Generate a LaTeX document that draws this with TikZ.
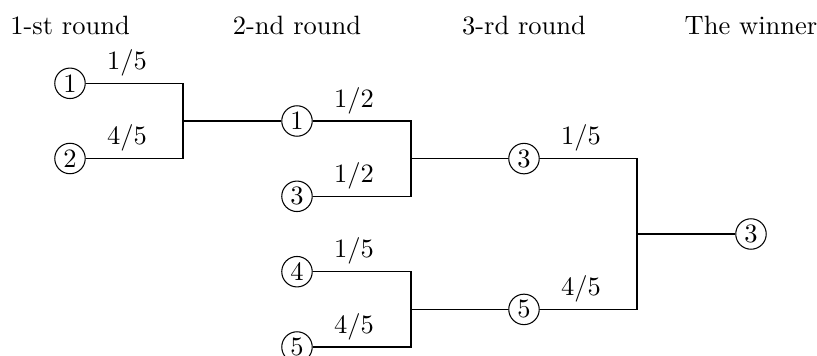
\documentclass[tikz,border=0pt]{standalone}
\begin{document}
\begin{tikzpicture}[x=0.37736pt,y=-0.37736pt,
  player/.style={draw,circle,inner sep=0pt,minimum size=11.5pt},
  head/.style={anchor=base,inner sep=0pt},
  prob/.style={anchor=base,inner sep=0pt},
  wire/.style={draw,line width=0.45pt}]
\useasboundingbox (0,0) rectangle (817,356);
% headings
\node[head] (h1) at (70,34) {1-st round};
\node[head] (h2) at (297,34) {2-nd round};
\node[head] (h3) at (524,34) {3-rd round};
\node[head] (h4) at (751,34) {The winner};
% players
\node[player] (a1) at (70,83.3) {1};
\node[player] (a2) at (70,158.5) {2};
\node[player] (b1) at (297,121) {1};
\node[player] (b3) at (297,196.3) {3};
\node[player] (b4) at (297,271.7) {4};
\node[player] (b5) at (297,347) {5};
\node[player] (c3) at (524,158.6) {3};
\node[player] (c5) at (524,309.4) {5};
\node[player] (w) at (751,234) {3};
% joins
\coordinate (j1) at (183,121);
\coordinate (j2) at (411,158.6);
\coordinate (j3) at (411,309.4);
\coordinate (j4) at (637,234);
\draw[wire] (a1) -- (a1 -| j1) -- (a2 -| j1) -- (a2);
\draw[wire] (j1) -- (b1);
\draw[wire] (b1) -- (b1 -| j2) -- (b3 -| j2) -- (b3);
\draw[wire] (j2) -- (c3);
\draw[wire] (b4) -- (b4 -| j3) -- (b5 -| j3) -- (b5);
\draw[wire] (j3) -- (c5);
\draw[wire] (c3) -- (c3 -| j4) -- (c5 -| j4) -- (c5);
\draw[wire] (j4) -- (w);
% probabilities
\node[prob] (pa1) at ([shift={(57,-14)}]a1) {$1/5$};
\node[prob] (pa2) at ([shift={(57,-14)}]a2) {$4/5$};
\node[prob] (pb1) at ([shift={(57,-14)}]b1) {$1/2$};
\node[prob] (pb3) at ([shift={(57,-14)}]b3) {$1/2$};
\node[prob] (pb4) at ([shift={(57,-14)}]b4) {$1/5$};
\node[prob] (pb5) at ([shift={(57,-14)}]b5) {$4/5$};
\node[prob] (pc3) at ([shift={(57,-14)}]c3) {$1/5$};
\node[prob] (pc5) at ([shift={(57,-14)}]c5) {$4/5$};
\end{tikzpicture}
\end{document}
